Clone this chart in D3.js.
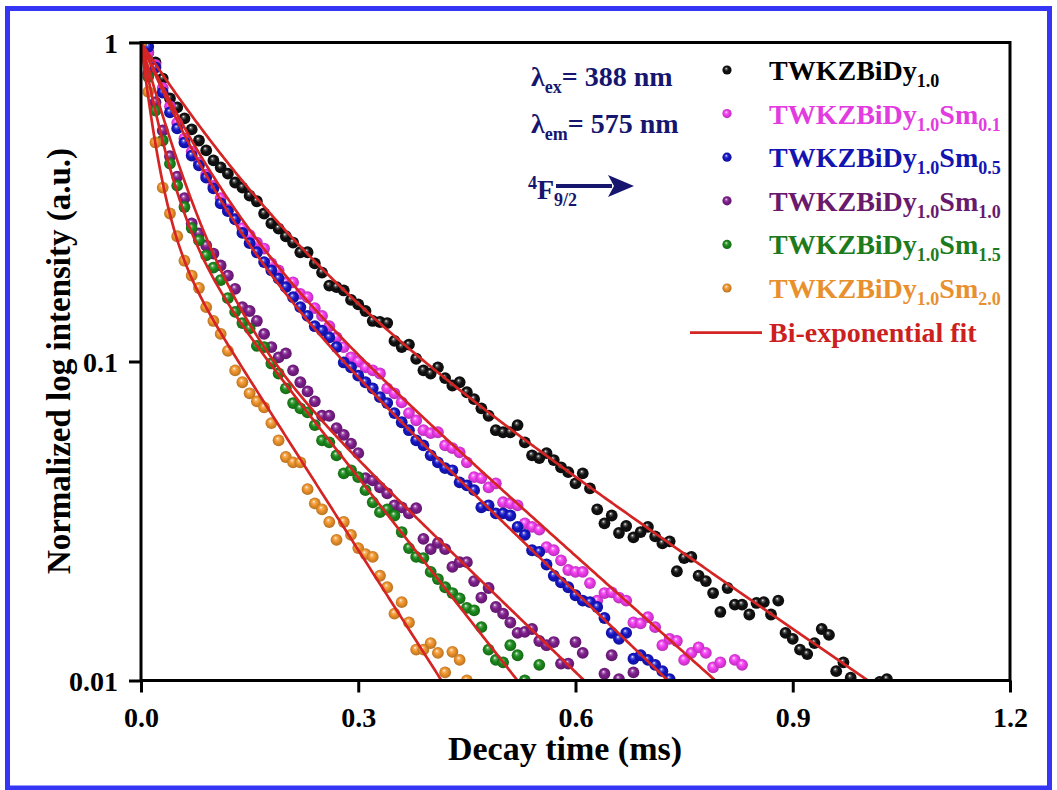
<!DOCTYPE html>
<html>
<head>
<meta charset="utf-8">
<script src="https://cdn.jsdelivr.net/npm/d3@7"></script>
<style>
  body { margin: 0; background: #fff; }
  svg { display: block; }
  text { font-family: "Liberation Serif", "Times New Roman", serif; font-weight: bold; }
</style>
</head>
<body>
<svg id="chart" width="1057" height="790"></svg>
<script>
// Time channels of the decay measurement (ms)
const times = [
  0.00,0.01,0.02,0.03,0.04,0.05,0.06,0.07,0.08,0.09,
  0.10,0.11,0.12,0.13,0.14,0.15,0.16,0.17,0.18,0.19,
  0.20,0.21,0.22,0.23,0.24,0.25,0.26,0.27,0.28,0.29,
  0.30,0.31,0.32,0.33,0.34,0.35,0.36,0.37,0.38,0.39,
  0.40,0.41,0.42,0.43,0.44,0.45,0.46,0.47,0.48,0.49,
  0.50,0.51,0.52,0.53,0.54,0.55,0.56,0.57,0.58,0.59,
  0.60,0.61,0.62,0.63,0.64,0.65,0.66,0.67,0.68,0.69,
  0.70,0.71,0.72,0.73,0.74,0.75,0.76,0.77,0.78,0.79,
  0.80,0.81,0.82,0.83,0.84,0.85,0.86,0.87,0.88,0.89,
  0.90,0.91,0.92,0.93,0.94,0.95,0.96,0.97,0.98,0.99,
  1.00,1.01,1.02,1.03
];

// Normalized intensities per channel (null = no point shown)
const dy10 = [
  1.0,0.93,0.866,0.771,0.668,0.626,0.578,0.534,0.493,0.459,
  0.427,0.406,0.388,0.364,0.351,0.331,0.318,0.291,0.271,0.261,
  0.247,0.236,0.220,0.220,0.203,0.190,0.173,0.171,0.167,0.156,
  0.151,0.144,0.134,0.133,0.132,0.116,0.111,0.113,0.102,0.0938,
  0.0917,0.0959,0.0887,0.0841,0.0861,0.0801,0.0762,0.0713,0.0676,0.0609,
  0.0600,0.0600,0.0632,0.0558,0.0508,0.0498,0.0516,0.0491,0.0466,0.0450,
  0.0415,0.0446,0.0400,0.0344,0.0311,0.0329,0.0290,0.0305,0.0281,0.0292,
  0.0303,0.0283,0.0269,0.0273,0.0220,0.0242,0.0244,0.0213,0.0205,0.0188,
  0.0164,0.0195,0.0173,0.0173,0.0161,0.0175,0.0176,0.0161,0.0178,0.0141,
  0.0135,0.0125,0.0121,0.0131,0.0145,0.0139,0.0107,0.0114,0.0102,null,
  null,null,0.0099,0.0101
];
const sm01 = [
  1.0,0.93,0.85,0.72,0.63,0.56,0.50,0.455,0.42,0.385,
  0.355,0.325,0.30,0.28,0.262,0.249,0.236,0.226,0.203,0.193,
  0.177,0.177,0.163,0.159,0.147,0.139,0.129,0.119,0.111,0.103,
  0.100,0.0959,0.0938,0.0917,0.0824,0.0795,0.0745,0.0689,0.0654,0.0609,
  0.0596,0.0600,0.0546,0.0535,0.0519,0.0483,0.0434,0.0431,0.0403,0.0415,
  0.0362,0.0359,0.0354,0.0311,0.0303,0.0297,0.0262,0.0256,0.0238,0.0222,
  0.0219,0.0219,0.0202,0.0178,0.0188,0.0189,0.0182,0.0178,0.0152,0.0151,
  0.0158,0.0147,0.0129,0.0135,0.0133,0.0116,0.0122,0.0127,0.0122,0.0110,
  0.0114,null,0.0116,0.0112
];
const sm05 = [
  1.0,0.97,0.835,0.697,0.604,0.538,0.486,0.442,0.412,0.377,
  0.349,0.313,0.296,0.279,0.253,0.235,0.220,0.205,0.193,0.182,
  0.171,0.159,0.148,0.139,0.129,0.125,0.119,0.111,0.0993,0.0959,
  0.0903,0.0861,0.0824,0.0773,0.0741,0.0689,0.0645,0.0609,0.0566,0.0546,
  0.0508,0.0483,0.0463,0.0456,0.0418,0.0409,0.0395,0.0349,0.0354,0.0334,
  0.0334,0.0329,0.0303,0.0286,0.0256,0.0253,0.0231,0.0213,0.0203,0.0196,
  0.0185,0.0178,0.0176,0.0170,0.0157,0.0141,0.0135,0.0141,0.0117,0.0120,
  0.0116,0.0112,0.0107,0.0101
];
const sm10 = [
  1.0,0.80,0.65,0.53,0.44,0.38,0.325,0.271,0.252,0.231,
  0.218,0.200,0.186,0.169,0.148,0.144,0.134,0.122,0.111,0.103,
  0.106,0.0938,0.0861,0.0806,0.0750,0.0676,0.0676,0.0618,0.0589,0.0553,
  0.0516,0.0431,0.0424,0.0403,0.0386,0.0354,0.0349,0.0334,0.0347,0.0278,
  0.0258,0.0270,0.0258,0.0227,0.0235,0.0235,0.0205,0.0182,0.0195,0.0170,
  0.0162,0.0152,0.0141,0.0142,0.0145,0.0133,0.0129,0.0132,0.0113,0.0113,
  0.0132,0.0122,null,null,0.0105,0.0120,0.0101,null,0.0106
];
const sm15 = [
  1.0,0.78,0.612,0.493,0.417,0.356,0.305,0.262,0.240,0.215,
  0.197,0.180,0.158,0.143,0.132,0.127,0.112,0.111,0.0986,0.0917,
  0.0824,0.0741,0.0713,0.0693,0.0632,0.0566,0.0558,0.0508,0.0446,0.0456,
  0.0434,0.0395,0.0362,0.0337,0.0344,0.0329,0.0292,0.0260,0.0244,0.0242,
  0.0219,0.0208,0.0196,0.0188,0.0181,0.0169,0.0166,0.0147,0.0125,0.0116,
  0.0114,0.0129,0.0120,0.0100,null,0.0112
];
const sm20 = [
  1.0,0.70,0.486,0.351,0.291,0.247,0.207,0.186,0.170,0.148,
  0.134,0.122,0.108,0.0938,0.0861,0.0795,0.075,0.0718,0.0641,0.0566,
  0.0502,0.0483,0.0483,0.0398,0.0359,0.0344,0.0314,0.0276,0.0314,0.0286,
  0.0260,0.0249,0.0244,0.0213,0.0196,0.0162,0.0176,0.0152,0.0125,0.0125,
  0.0131,0.0122,0.0106,0.0123,0.0116,0.0100
];
const seriesValues = [dy10, sm01, sm05, sm10, sm15, sm20];

// Legend labels: [text, isSubscript]
const seriesLabels = [
  [["TWKZBiDy",0],["1.0",1]],
  [["TWKZBiDy",0],["1.0",1],["Sm",0],["0.1",1]],
  [["TWKZBiDy",0],["1.0",1],["Sm",0],["0.5",1]],
  [["TWKZBiDy",0],["1.0",1],["Sm",0],["1.0",1]],
  [["TWKZBiDy",0],["1.0",1],["Sm",0],["1.5",1]],
  [["TWKZBiDy",0],["1.0",1],["Sm",0],["2.0",1]]
];

// Bi-exponential fit parameters: I(t) = A1 exp(-t/tau1) + (1 - A1) exp(-t/tau2)
const fitA1   = [0.64, 0.60, 0.62, 0.78, 0.68, 0.70];
const fitTau1 = [0.0965, 0.065, 0.061, 0.045, 0.0275, 0.0177];
const fitTau2 = [0.28, 0.215, 0.20, 0.198, 0.15, 0.122];

const xTicks = [0, 0.3, 0.6, 0.9, 1.2];
const yTicks = [0.01, 0.1, 1];
const yTickLabels = ["0.01", "0.1", "1"];

// ---- styling ----
const seriesColors = ["#111111", "#f23cf0", "#1616c8", "#7e1f8c", "#1c8a1c", "#f0952c"];
const textColors   = ["#000000", "#e23be0", "#1414b0", "#6a1a6c", "#1d7a1d", "#e8902e"];
const fitColor = "#d42424";
const navy = "#16166e";

const svg = d3.select("#chart");
svg.append("rect").attr("width", 1057).attr("height", 790).attr("fill", "#fff");

const L = 141, R = 1010, T = 42.5, B = 680.5;
const x = d3.scaleLinear().domain([0, 1.2]).range([L, R]);
const y = d3.scaleLog().domain([0.01, 1]).range([B, T]);

const defs = svg.append("defs");
defs.append("clipPath").attr("id", "plotClip")
  .append("rect").attr("x", L).attr("y", T).attr("width", R - L).attr("height", B - T);

seriesColors.forEach((c, i) => {
  const g = defs.append("radialGradient").attr("id", "ball" + i)
    .attr("cx", "50%").attr("cy", "50%").attr("r", "55%")
    .attr("fx", "40%").attr("fy", "32%");
  g.append("stop").attr("offset", "0%").attr("stop-color", "#ffffff");
  g.append("stop").attr("offset", "20%").attr("stop-color", d3.interpolateRgb(c, "#ffffff")(0.3));
  g.append("stop").attr("offset", "45%").attr("stop-color", c);
  g.append("stop").attr("offset", "100%").attr("stop-color", d3.color(c).darker(0.9).formatHex());
});

// outer blue frame
svg.append("rect").attr("x", 7.5).attr("y", 8.5).attr("width", 1042).attr("height", 779.5)
  .attr("fill", "none").attr("stroke", "#3535f5").attr("stroke-width", 5);

const plot = svg.append("g").attr("clip-path", "url(#plotClip)");

// data points
seriesValues.forEach((vals, i) => {
  const pts = vals.map((v, k) => ({ t: times[k], v })).filter(d => d.v !== null);
  plot.append("g").selectAll("circle").data(pts).join("circle")
    .attr("cx", d => x(d.t)).attr("cy", d => y(d.v)).attr("r", 5.9)
    .attr("fill", `url(#ball${i})`);
});

// fit curves
const line = d3.line().x(d => x(d.t)).y(d => y(d.v));
fitA1.forEach((a1, i) => {
  const t1 = fitTau1[i], t2 = fitTau2[i];
  const tEnd = t2 * Math.log((1 - a1) / 0.01) + 0.03;
  const pts = d3.range(0, tEnd, 0.002).map(t => ({ t, v: a1 * Math.exp(-t / t1) + (1 - a1) * Math.exp(-t / t2) }));
  plot.append("path").datum(pts).attr("d", line)
    .attr("fill", "none").attr("stroke", fitColor).attr("stroke-width", 2.7);
});

// axes
const xAxis = svg.append("g").attr("transform", `translate(0,${B})`)
  .call(d3.axisBottom(x).tickValues(xTicks).tickSize(12).tickFormat(d3.format(".1f")));
const yAxis = svg.append("g").attr("transform", `translate(${L},0)`)
  .call(d3.axisLeft(y).tickValues(yTicks).tickSize(12).tickFormat(d => yTickLabels[yTicks.indexOf(d)]));
[xAxis, yAxis].forEach(ax => {
  ax.select(".domain").remove();
  ax.selectAll(".tick line").attr("stroke", "#000").attr("stroke-width", 3);
  ax.selectAll(".tick text").attr("fill", "#000").attr("font-size", 28)
    .attr("font-family", "Liberation Serif, Times New Roman, serif").attr("font-weight", "bold");
});
xAxis.selectAll(".tick text").attr("y", 46.5).attr("dy", null);
yAxis.selectAll(".tick text").attr("x", -23).attr("dy", "0.34em");

// plot frame
svg.append("rect").attr("x", L).attr("y", T).attr("width", R - L).attr("height", B - T)
  .attr("fill", "none").attr("stroke", "#000").attr("stroke-width", 3);

// axis titles
svg.append("text").attr("x", 565).attr("y", 760).attr("text-anchor", "middle")
  .attr("font-size", 34).attr("fill", "#000").text("Decay time (ms)");
svg.append("text").attr("transform", "translate(70,361) rotate(-90)").attr("text-anchor", "middle")
  .attr("font-size", 33).attr("fill", "#000").text("Normalized log intensity (a.u.)");

// legend
function richText(sel, parts, size, subSize, subShift) {
  let shifted = false;
  parts.forEach(([txt, sub]) => {
    const ts = sel.append("tspan").text(txt).attr("font-size", sub ? subSize : size);
    if (sub && !shifted) { ts.attr("dy", subShift); shifted = true; }
    else if (!sub && shifted) { ts.attr("dy", -subShift); shifted = false; }
  });
}
const legendY0 = 80, legendStep = 43.6;
seriesLabels.forEach((parts, i) => {
  const by = legendY0 + i * legendStep;
  svg.append("circle").attr("cx", 727).attr("cy", by - 10).attr("r", 4.6).attr("fill", `url(#ball${i})`);
  const t = svg.append("text").attr("x", 769).attr("y", by).attr("fill", textColors[i]);
  richText(t, parts, 28, 18, 7);
});
const fitY = legendY0 + 6 * legendStep;
svg.append("line").attr("x1", 690).attr("x2", 762).attr("y1", fitY - 9).attr("y2", fitY - 9)
  .attr("stroke", fitColor).attr("stroke-width", 2.7);
svg.append("text").attr("x", 769).attr("y", fitY).attr("font-size", 28).attr("fill", "#cc1f1f")
  .text("Bi-exponential fit");

// excitation / emission annotation
const ex = svg.append("text").attr("x", 531).attr("y", 86).attr("fill", navy);
richText(ex, [["λ",0],["ex",1],["= 388 nm",0]], 28, 18, 7);
const em = svg.append("text").attr("x", 531).attr("y", 133).attr("fill", navy);
richText(em, [["λ",0],["em",1],["= 575 nm",0]], 28, 18, 7);

const lev = svg.append("text").attr("x", 528).attr("y", 199).attr("fill", navy);
lev.append("tspan").attr("font-size", 18).attr("dy", -10).text("4");
lev.append("tspan").attr("font-size", 28).attr("dy", 10).text("F");
lev.append("tspan").attr("font-size", 18).attr("dy", 7).text("9/2");

// arrow
svg.append("line").attr("x1", 556).attr("x2", 612).attr("y1", 186).attr("y2", 186)
  .attr("stroke", navy).attr("stroke-width", 4);
svg.append("path").attr("d", "M608,175 L634,186 L608,197 L614,186 Z").attr("fill", navy);
</script>
</body>
</html>
